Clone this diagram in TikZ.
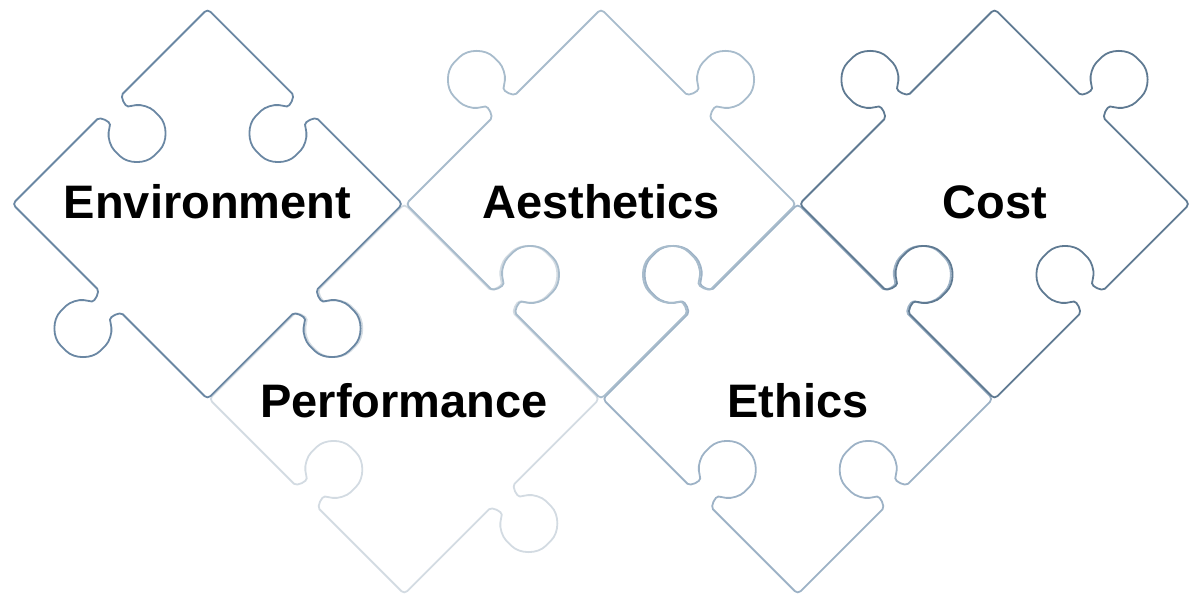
\documentclass[tikz,border=0pt]{standalone}
\usepackage{fontspec}
\setmainfont{Liberation Sans}
\usepackage{xcolor}

\definecolor{envline}{HTML}{6A87A3}
\definecolor{aesline}{HTML}{A8BCCC}
\definecolor{costline}{HTML}{5F7A92}
\definecolor{perfline}{HTML}{D3DBE2}
\definecolor{ethline}{HTML}{9DB2C6}

\tikzset{
  piece/.style={line width=1.8pt, rounded corners=4pt},
  piecetext/.style={font=\fontsize{47}{56}\selectfont\bfseries, anchor=base}
}

% one side of a piece: +1 = knob out, -1 = socket in
\newcommand{\tabedge}[1]{-- (115.9,0) .. controls (123.9,0) and (127.5,{11.1*(#1)}) .. (121.8,{15.1*(#1)})
  .. controls (114.3,{20.4*(#1)}) and (109.9,{28.9*(#1)}) .. (109.9,{38*(#1)})
  .. controls (109.9,{53.5*(#1)}) and (122.4,{66*(#1)}) .. (137.9,{66*(#1)})
  .. controls (153.4,{66*(#1)}) and (165.9,{53.5*(#1)}) .. (165.9,{38*(#1)})
  .. controls (165.9,{28.9*(#1)}) and (161.5,{20.4*(#1)}) .. (154,{15.1*(#1)})
  .. controls (148.3,{11.1*(#1)}) and (151.9,0) .. (159.9,0) -- (275.8,0)}

% colour, centre, then the sides upper left, upper right, lower right, lower left
\newcommand{\puzzle}[6]{%
  \draw[piece, #1, shift={#2}, rotate=45]
    {[shift={(-137.9,137.9)}] (50,0) \tabedge{#3}}
    {[shift={(137.9,137.9)}, rotate=-90] \tabedge{#4}}
    {[shift={(137.9,-137.9)}, rotate=180] \tabedge{#5}}
    {[shift={(-137.9,-137.9)}, rotate=90] \tabedge{#6}} -- cycle;}

\begin{document}
\begin{tikzpicture}[x=1pt, y=1pt]
    \useasboundingbox (0,0) rectangle (1189,598);

    \puzzle{perfline}{(404.25,199)}{-1}{1}{1}{-1}
    \puzzle{ethline}{(797.75,199)}{1}{1}{-1}{-1}
    \puzzle{aesline}{(601,394)}{1}{1}{-1}{-1}
    \puzzle{envline}{(207.5,394)}{-1}{-1}{1}{1}
    \puzzle{costline}{(994.5,394)}{1}{1}{-1}{-1}

    \node[piecetext] (environment) at (207.5,379) {Environment};
    \node[piecetext] (aesthetics) at (601,379) {Aesthetics};
    \node[piecetext] (cost) at (995,379) {Cost};
    \node[piecetext] (performance) at (404,181) {Performance};
    \node[piecetext] (ethics) at (798,181) {Ethics};
\end{tikzpicture}
\end{document}
